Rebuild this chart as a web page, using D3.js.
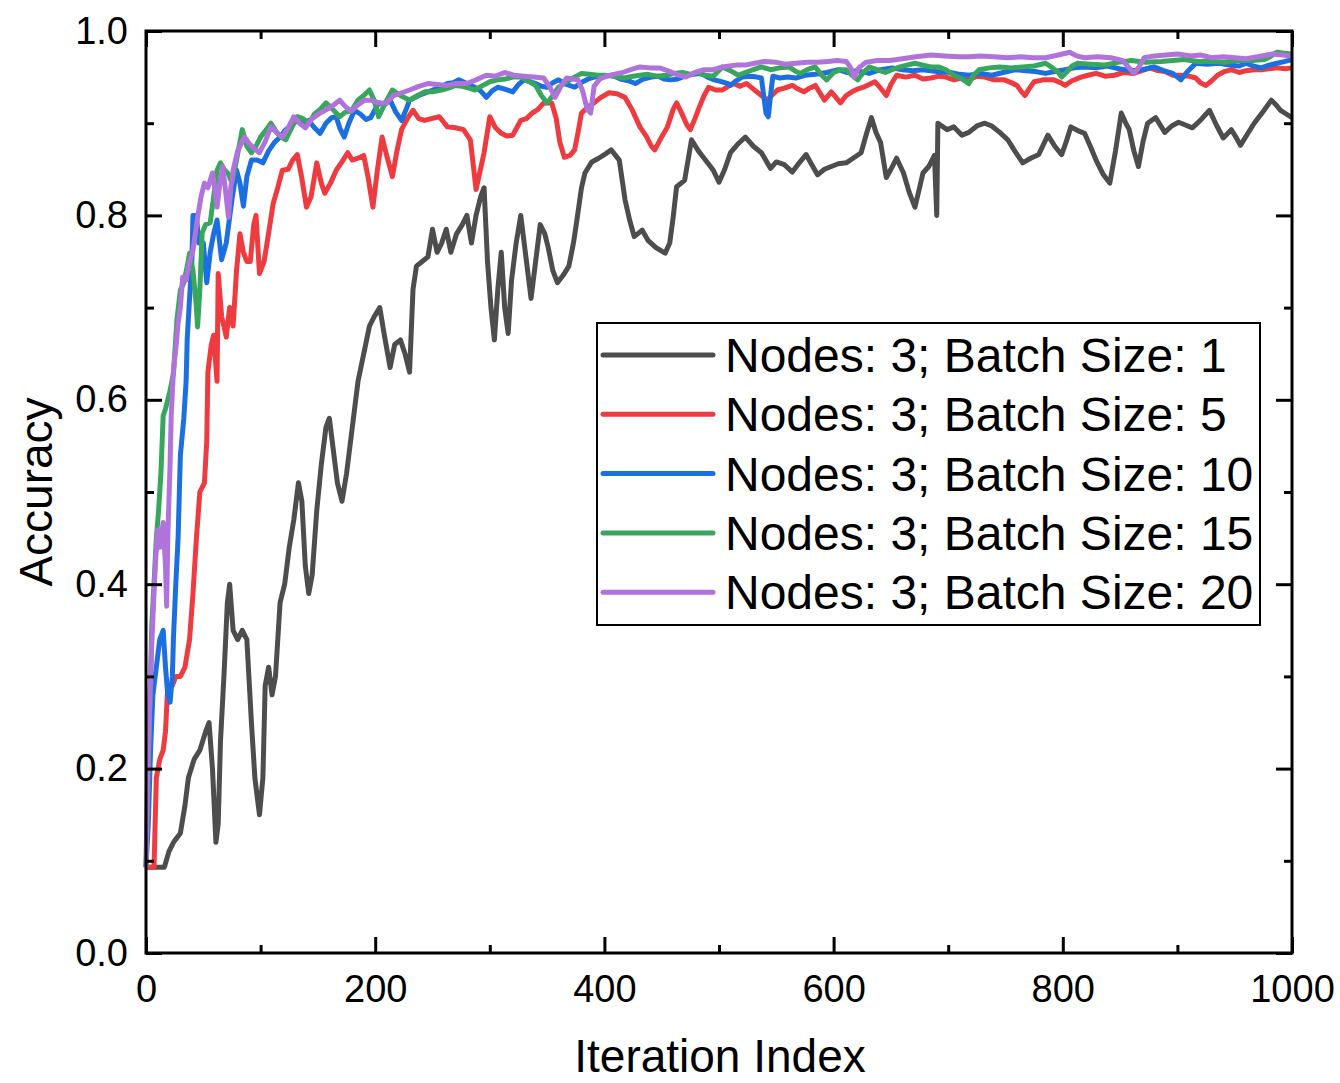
<!DOCTYPE html>
<html>
<head>
<meta charset="utf-8">
<script src="https://cdn.jsdelivr.net/npm/d3@7"></script>
<style>
  html, body { margin: 0; padding: 0; background: #fff; }
  svg { display: block; font-family: "Liberation Sans", Arial, sans-serif; }
</style>
</head>
<body>
<svg width="1340" height="1083"></svg>
<script>
// series data: [iteration, accuracy]
var bs1 = [[0,0.093],[16,0.093],[20,0.11],[24,0.12],[30,0.13],[34,0.16],[37,0.19],[42,0.21],[47,0.22],[52,0.24],[55,0.25],[58,0.2],[61,0.12],[63,0.14],[65,0.23],[68,0.3],[71,0.38],[73,0.40],[76,0.35],[80,0.34],[84,0.35],[88,0.34],[92,0.25],[95,0.19],[99,0.15],[102,0.19],[104,0.29],[107,0.31],[110,0.28],[113,0.30],[117,0.38],[121,0.40],[125,0.44],[129,0.47],[133,0.51],[136,0.49],[139,0.42],[142,0.39],[145,0.41],[149,0.48],[153,0.53],[157,0.57],[160,0.58],[163,0.55],[167,0.51],[171,0.49],[175,0.52],[180,0.57],[185,0.62],[190,0.65],[195,0.68],[199,0.69],[204,0.70],[208,0.67],[213,0.635],[217,0.66],[222,0.665],[226,0.65],[230,0.63],[233,0.72],[236,0.745],[241,0.75],[246,0.755],[250,0.785],[254,0.76],[258,0.77],[262,0.785],[266,0.76],[271,0.78],[276,0.79],[280,0.80],[284,0.77],[288,0.80],[292,0.82],[295,0.83],[298,0.75],[301,0.70],[304,0.665],[307,0.72],[310,0.76],[313,0.70],[316,0.672],[319,0.73],[323,0.77],[327,0.80],[331,0.76],[336,0.71],[340,0.75],[344,0.79],[348,0.78],[351,0.765],[355,0.74],[359,0.727],[364,0.735],[369,0.745],[373,0.77],[376,0.795],[380,0.83],[383,0.846],[389,0.858],[395,0.862],[400,0.866],[406,0.871],[413,0.86],[418,0.817],[422,0.795],[426,0.777],[433,0.784],[438,0.773],[445,0.765],[453,0.759],[457,0.77],[460,0.798],[463,0.831],[470,0.838],[476,0.882],[482,0.87],[487,0.862],[495,0.849],[500,0.836],[505,0.85],[510,0.868],[517,0.878],[523,0.885],[530,0.875],[537,0.868],[545,0.851],[550,0.858],[557,0.855],[564,0.847],[570,0.857],[576,0.866],[581,0.855],[586,0.844],[592,0.85],[598,0.853],[604,0.856],[611,0.857],[617,0.862],[624,0.868],[629,0.89],[633,0.906],[637,0.89],[641,0.879],[646,0.841],[650,0.85],[655,0.862],[661,0.846],[666,0.825],[671,0.809],[675,0.83],[678,0.846],[683,0.853],[688,0.865],[690,0.80],[691,0.90],[699,0.893],[705,0.896],[712,0.887],[718,0.89],[725,0.897],[732,0.90],[738,0.897],[745,0.89],[752,0.882],[758,0.87],[765,0.857],[772,0.862],[779,0.866],[787,0.887],[793,0.875],[799,0.866],[803,0.88],[807,0.896],[813,0.892],[819,0.889],[824,0.875],[829,0.86],[835,0.845],[841,0.835],[846,0.87],[851,0.911],[855,0.9],[858,0.893],[862,0.87],[866,0.853],[870,0.88],[874,0.90],[881,0.906],[889,0.89],[895,0.897],[901,0.901],[907,0.898],[913,0.895],[920,0.903],[928,0.914],[934,0.898],[940,0.884],[947,0.893],[951,0.885],[955,0.876],[961,0.888],[967,0.90],[975,0.913],[982,0.925],[986,0.92],[990,0.914],[995,0.91],[1000,0.906]];

var bs5 = [[0,0.093],[7,0.093],[9,0.19],[12,0.21],[15,0.22],[17,0.24],[19,0.29],[23,0.29],[26,0.30],[30,0.30],[34,0.31],[38,0.34],[41,0.39],[44,0.45],[47,0.50],[51,0.51],[53,0.555],[54,0.63],[57,0.66],[59,0.67],[62,0.62],[63,0.737],[66,0.69],[68,0.68],[70,0.668],[73,0.70],[76,0.68],[79,0.74],[82,0.78],[85,0.76],[88,0.75],[91,0.75],[94,0.79],[96,0.80],[99,0.737],[103,0.75],[106,0.773],[111,0.813],[115,0.83],[119,0.849],[124,0.85],[128,0.86],[132,0.866],[136,0.84],[140,0.809],[144,0.82],[149,0.857],[153,0.835],[156,0.824],[161,0.835],[166,0.849],[171,0.858],[176,0.868],[180,0.86],[185,0.862],[190,0.865],[194,0.84],[198,0.809],[202,0.85],[206,0.885],[210,0.865],[215,0.842],[219,0.87],[223,0.893],[228,0.905],[233,0.914],[238,0.905],[243,0.903],[249,0.905],[256,0.907],[263,0.896],[270,0.895],[277,0.893],[283,0.882],[286,0.85],[288,0.828],[291,0.845],[295,0.868],[300,0.907],[305,0.895],[310,0.889],[315,0.886],[320,0.887],[327,0.903],[332,0.905],[337,0.911],[342,0.915],[347,0.922],[354,0.922],[358,0.905],[361,0.88],[365,0.863],[370,0.865],[374,0.871],[377,0.89],[380,0.911],[386,0.918],[391,0.922],[397,0.928],[404,0.933],[411,0.932],[418,0.928],[424,0.915],[431,0.896],[437,0.885],[441,0.875],[444,0.871],[449,0.883],[455,0.896],[460,0.915],[463,0.922],[467,0.912],[472,0.898],[475,0.893],[479,0.905],[483,0.918],[487,0.93],[491,0.939],[497,0.936],[503,0.936],[508,0.94],[513,0.943],[518,0.94],[524,0.943],[529,0.938],[534,0.933],[539,0.928],[542,0.925],[546,0.93],[551,0.936],[557,0.938],[564,0.941],[569,0.937],[574,0.934],[579,0.938],[584,0.941],[588,0.933],[592,0.925],[598,0.934],[602,0.928],[606,0.922],[611,0.93],[616,0.934],[621,0.937],[626,0.939],[631,0.942],[636,0.945],[641,0.938],[646,0.93],[650,0.942],[655,0.952],[663,0.95],[671,0.952],[678,0.948],[685,0.949],[692,0.951],[698,0.95],[705,0.947],[712,0.949],[718,0.947],[725,0.951],[732,0.95],[740,0.947],[749,0.947],[755,0.944],[760,0.941],[764,0.934],[767,0.93],[771,0.938],[775,0.945],[783,0.947],[792,0.947],[798,0.944],[802,0.941],[808,0.946],[816,0.95],[822,0.952],[829,0.954],[837,0.951],[845,0.952],[853,0.955],[862,0.954],[869,0.957],[876,0.96],[883,0.957],[889,0.956],[896,0.952],[903,0.952],[910,0.951],[916,0.949],[920,0.944],[925,0.941],[930,0.946],[935,0.952],[941,0.956],[947,0.958],[954,0.955],[960,0.957],[967,0.958],[973,0.958],[980,0.959],[987,0.96],[994,0.959],[1000,0.96]];

var bs10 = [[0,0.093],[2,0.14],[4,0.22],[6,0.28],[9,0.31],[12,0.34],[15,0.35],[17,0.31],[19,0.28],[21,0.272],[23,0.30],[24,0.343],[26,0.40],[28,0.45],[30,0.54],[33,0.58],[35,0.62],[36,0.667],[38,0.71],[40,0.75],[41,0.80],[44,0.80],[46,0.77],[50,0.77],[53,0.727],[56,0.76],[59,0.78],[62,0.795],[66,0.752],[70,0.77],[75,0.817],[79,0.849],[82,0.835],[85,0.81],[88,0.842],[92,0.86],[97,0.86],[102,0.857],[107,0.87],[112,0.879],[117,0.885],[122,0.893],[127,0.898],[132,0.903],[137,0.9],[142,0.903],[147,0.895],[152,0.889],[157,0.9],[162,0.906],[166,0.907],[169,0.895],[173,0.885],[177,0.9],[182,0.914],[187,0.91],[192,0.904],[196,0.906],[200,0.915],[203,0.922],[208,0.92],[213,0.925],[218,0.912],[223,0.903],[227,0.915],[230,0.925],[238,0.93],[246,0.934],[255,0.938],[263,0.943],[268,0.944],[273,0.947],[280,0.943],[287,0.939],[292,0.935],[297,0.928],[302,0.935],[307,0.939],[313,0.937],[320,0.934],[325,0.942],[330,0.947],[335,0.945],[340,0.943],[345,0.94],[350,0.939],[355,0.944],[360,0.947],[367,0.942],[374,0.939],[381,0.945],[386,0.948],[391,0.95],[399,0.951],[407,0.952],[414,0.948],[421,0.946],[427,0.943],[434,0.948],[441,0.95],[447,0.951],[452,0.948],[458,0.947],[464,0.948],[470,0.951],[477,0.953],[484,0.954],[490,0.95],[496,0.947],[502,0.945],[508,0.943],[510,0.941],[515,0.946],[520,0.95],[527,0.951],[533,0.95],[537,0.949],[539,0.93],[541,0.911],[543,0.907],[545,0.93],[547,0.951],[553,0.949],[560,0.95],[567,0.949],[575,0.952],[584,0.953],[594,0.955],[604,0.958],[612,0.955],[620,0.957],[631,0.954],[641,0.958],[651,0.96],[660,0.958],[669,0.957],[678,0.958],[690,0.956],[702,0.955],[710,0.953],[718,0.952],[728,0.954],[738,0.952],[748,0.955],[758,0.958],[768,0.957],[776,0.956],[785,0.954],[793,0.956],[802,0.958],[810,0.96],[819,0.961],[829,0.96],[839,0.962],[849,0.959],[859,0.957],[869,0.958],[880,0.961],[888,0.957],[896,0.954],[900,0.95],[903,0.947],[908,0.955],[916,0.965],[926,0.964],[936,0.965],[946,0.963],[954,0.962],[960,0.965],[966,0.962],[973,0.96],[980,0.963],[987,0.965],[994,0.967],[1000,0.969]];

var bs15 = [[0,0.093],[2,0.2],[4,0.3],[5,0.355],[7,0.40],[9,0.45],[11,0.48],[13,0.52],[15,0.583],[17,0.59],[19,0.60],[21,0.61],[24,0.629],[27,0.687],[30,0.719],[33,0.727],[36,0.745],[38,0.759],[41,0.74],[44,0.70],[45,0.679],[47,0.72],[49,0.781],[52,0.79],[56,0.792],[59,0.82],[62,0.849],[65,0.857],[68,0.85],[72,0.845],[75,0.835],[79,0.86],[84,0.893],[88,0.875],[92,0.868],[96,0.875],[100,0.885],[105,0.893],[109,0.9],[114,0.89],[118,0.885],[122,0.882],[127,0.895],[132,0.907],[137,0.905],[142,0.9],[147,0.91],[152,0.915],[157,0.922],[163,0.915],[169,0.907],[174,0.912],[179,0.913],[185,0.925],[190,0.93],[195,0.936],[199,0.925],[203,0.907],[208,0.92],[215,0.936],[222,0.93],[230,0.925],[237,0.93],[243,0.934],[250,0.934],[258,0.936],[264,0.938],[270,0.941],[276,0.94],[282,0.938],[287,0.936],[294,0.941],[300,0.945],[307,0.947],[314,0.948],[320,0.95],[327,0.95],[333,0.946],[340,0.941],[345,0.93],[350,0.922],[355,0.93],[360,0.939],[367,0.945],[374,0.95],[380,0.954],[387,0.953],[394,0.952],[400,0.952],[408,0.951],[417,0.949],[425,0.951],[431,0.952],[438,0.953],[446,0.951],[454,0.952],[461,0.954],[468,0.955],[475,0.953],[481,0.955],[488,0.952],[495,0.951],[503,0.961],[510,0.957],[517,0.952],[523,0.955],[530,0.958],[537,0.961],[545,0.958],[553,0.96],[561,0.961],[566,0.957],[571,0.954],[577,0.958],[584,0.961],[589,0.953],[594,0.947],[600,0.955],[606,0.958],[611,0.958],[616,0.952],[621,0.947],[626,0.955],[631,0.961],[638,0.958],[645,0.955],[651,0.958],[658,0.961],[664,0.963],[671,0.965],[678,0.963],[685,0.961],[692,0.961],[698,0.958],[705,0.952],[712,0.948],[718,0.943],[722,0.952],[727,0.958],[736,0.96],[745,0.961],[755,0.96],[765,0.961],[775,0.962],[785,0.965],[791,0.96],[796,0.955],[799,0.95],[803,0.955],[808,0.962],[813,0.965],[824,0.964],[836,0.963],[848,0.966],[860,0.968],[872,0.966],[886,0.967],[896,0.968],[906,0.969],[918,0.967],[930,0.967],[941,0.966],[953,0.968],[965,0.968],[976,0.969],[982,0.973],[987,0.977],[993,0.976],[1000,0.975]];

var bs20 = [[0,0.093],[1,0.17],[3,0.26],[5,0.334],[7,0.39],[8,0.417],[10,0.459],[12,0.44],[15,0.467],[17,0.42],[18,0.376],[19,0.45],[21,0.53],[22,0.583],[24,0.633],[26,0.655],[28,0.683],[30,0.70],[32,0.733],[35,0.73],[38,0.75],[41,0.762],[43,0.78],[45,0.798],[48,0.82],[51,0.835],[54,0.83],[58,0.846],[60,0.83],[62,0.809],[65,0.84],[67,0.853],[70,0.82],[72,0.798],[74,0.83],[76,0.849],[80,0.87],[86,0.885],[90,0.878],[95,0.872],[99,0.868],[104,0.88],[109,0.896],[114,0.89],[119,0.885],[124,0.895],[129,0.907],[134,0.9],[139,0.895],[145,0.905],[152,0.911],[158,0.915],[164,0.92],[169,0.925],[174,0.918],[179,0.913],[185,0.92],[191,0.925],[196,0.925],[203,0.922],[210,0.922],[216,0.93],[223,0.933],[230,0.936],[238,0.94],[246,0.943],[254,0.942],[263,0.941],[271,0.943],[280,0.943],[288,0.947],[297,0.952],[305,0.951],[313,0.955],[321,0.952],[330,0.951],[338,0.95],[347,0.949],[352,0.94],[357,0.928],[362,0.94],[367,0.949],[372,0.948],[377,0.947],[381,0.935],[385,0.915],[388,0.911],[391,0.94],[396,0.948],[402,0.951],[408,0.953],[416,0.955],[423,0.958],[431,0.961],[440,0.96],[448,0.96],[455,0.957],[463,0.953],[471,0.95],[479,0.955],[487,0.958],[495,0.958],[503,0.961],[509,0.962],[515,0.963],[523,0.963],[531,0.965],[540,0.967],[550,0.966],[558,0.964],[567,0.965],[577,0.966],[586,0.966],[595,0.967],[603,0.968],[611,0.967],[615,0.96],[618,0.95],[622,0.96],[628,0.966],[638,0.968],[649,0.968],[660,0.97],[672,0.972],[685,0.974],[697,0.973],[709,0.972],[718,0.972],[728,0.973],[740,0.972],[752,0.971],[763,0.972],[774,0.971],[785,0.971],[796,0.974],[806,0.977],[812,0.973],[819,0.971],[830,0.972],[842,0.971],[852,0.968],[858,0.96],[862,0.954],[866,0.96],[871,0.971],[880,0.973],[890,0.974],[900,0.975],[912,0.973],[920,0.974],[930,0.971],[940,0.972],[950,0.971],[960,0.97],[970,0.972],[983,0.975],[992,0.974],[1000,0.973]];

var seriesNames = ['Nodes: 3; Batch Size: 1', 'Nodes: 3; Batch Size: 5', 'Nodes: 3; Batch Size: 10',
                   'Nodes: 3; Batch Size: 15', 'Nodes: 3; Batch Size: 20'];
var seriesData = [bs1, bs5, bs10, bs15, bs20];
var seriesColors = ['#4d4d4d', '#ee3b40', '#1b6fe0', '#38a65d', '#b073dc'];

var xMajor = [0, 200, 400, 600, 800, 1000];
var xMinor = [100, 300, 500, 700, 900];
var yMajor = [0, 0.2, 0.4, 0.6, 0.8, 1.0];
var yMinor = [0.1, 0.3, 0.5, 0.7, 0.9];

var svg = d3.select('svg');
var padding = {t: 31, r: 48, b: 130, l: 146};
var svgWidth = +svg.attr('width');
var svgHeight = +svg.attr('height');
var chartWidth = svgWidth - padding.l - padding.r;
var chartHeight = svgHeight - padding.t - padding.b;

var xScale = d3.scaleLinear().domain([0, 1000]).range([0, chartWidth]);
var yScale = d3.scaleLinear().domain([0, 1]).range([chartHeight, 0]);

var chartG = svg.append('g')
    .attr('transform', 'translate(' + [padding.l, padding.t] + ')');

// lines
var line = d3.line()
    .x(function(d) { return xScale(d[0]); })
    .y(function(d) { return yScale(d[1]); });

chartG.selectAll('.series')
    .data(seriesData)
    .enter()
    .append('path')
    .attr('class', 'series')
    .attr('d', line)
    .attr('fill', 'none')
    .attr('stroke', function(d, i) { return seriesColors[i]; })
    .attr('stroke-width', 5)
    .attr('stroke-linejoin', 'round');

// axes (ticks point inward, mirrored on top and right)
function styleAxis(g, fontSize) {
    g.select('.domain').remove();
    g.selectAll('.tick line').attr('stroke', '#000').attr('stroke-width', 3);
    g.selectAll('.tick text').attr('fill', '#000')
        .style('font-size', fontSize + 'px')
        .style('font-family', '"Liberation Sans", Arial, sans-serif');
}

var fmtY = d3.format('.1f');

chartG.append('g')
    .attr('transform', 'translate(0,' + chartHeight + ')')
    .call(d3.axisBottom(xScale).tickValues(xMajor).tickSize(-16).tickPadding(22).tickFormat(d3.format('d')))
    .call(styleAxis, 38);
chartG.append('g')
    .attr('transform', 'translate(0,' + chartHeight + ')')
    .call(d3.axisBottom(xScale).tickValues(xMinor).tickSize(-8).tickFormat(''))
    .call(styleAxis, 38);
chartG.append('g')
    .call(d3.axisTop(xScale).tickValues(xMajor).tickSize(-16).tickFormat(''))
    .call(styleAxis, 38);
chartG.append('g')
    .call(d3.axisTop(xScale).tickValues(xMinor).tickSize(-8).tickFormat(''))
    .call(styleAxis, 38);

chartG.append('g')
    .call(d3.axisLeft(yScale).tickValues(yMajor).tickSize(-16).tickPadding(18).tickFormat(fmtY))
    .call(styleAxis, 38);
chartG.append('g')
    .call(d3.axisLeft(yScale).tickValues(yMinor).tickSize(-8).tickFormat(''))
    .call(styleAxis, 38);
chartG.append('g')
    .attr('transform', 'translate(' + chartWidth + ',0)')
    .call(d3.axisRight(yScale).tickValues(yMajor).tickSize(-16).tickFormat(''))
    .call(styleAxis, 38);
chartG.append('g')
    .attr('transform', 'translate(' + chartWidth + ',0)')
    .call(d3.axisRight(yScale).tickValues(yMinor).tickSize(-8).tickFormat(''))
    .call(styleAxis, 38);

// frame
chartG.append('rect')
    .attr('x', 0).attr('y', 0)
    .attr('width', chartWidth).attr('height', chartHeight)
    .attr('fill', 'none')
    .attr('stroke', '#000')
    .attr('stroke-width', 3);

// axis titles
svg.append('text')
    .attr('x', 720)
    .attr('y', 1072)
    .attr('text-anchor', 'middle')
    .style('font-size', '46px')
    .text('Iteration Index');

svg.append('text')
    .attr('transform', 'translate(52,' + (padding.t + chartHeight / 2) + ') rotate(-90)')
    .attr('text-anchor', 'middle')
    .style('font-size', '46px')
    .text('Accuracy');

// legend
var legendG = chartG.append('g')
    .attr('transform', 'translate(' + [597 - padding.l, 323 - padding.t] + ')');

legendG.append('rect')
    .attr('width', 663).attr('height', 302)
    .attr('fill', '#fff')
    .attr('stroke', '#000')
    .attr('stroke-width', 2);

var legendRow = legendG.selectAll('.legend-row')
    .data(seriesNames)
    .enter()
    .append('g')
    .attr('class', 'legend-row')
    .attr('transform', function(d, i) { return 'translate(0,' + (32 + i * 59.3) + ')'; });

legendRow.append('line')
    .attr('x1', 6).attr('x2', 116)
    .attr('stroke', function(d, i) { return seriesColors[i]; })
    .attr('stroke-width', 5)
    .attr('stroke-linecap', 'round');

legendRow.append('text')
    .attr('x', 128)
    .attr('y', 17)
    .style('font-size', '48px')
    .text(function(d) { return d; });
</script>
</body>
</html>
